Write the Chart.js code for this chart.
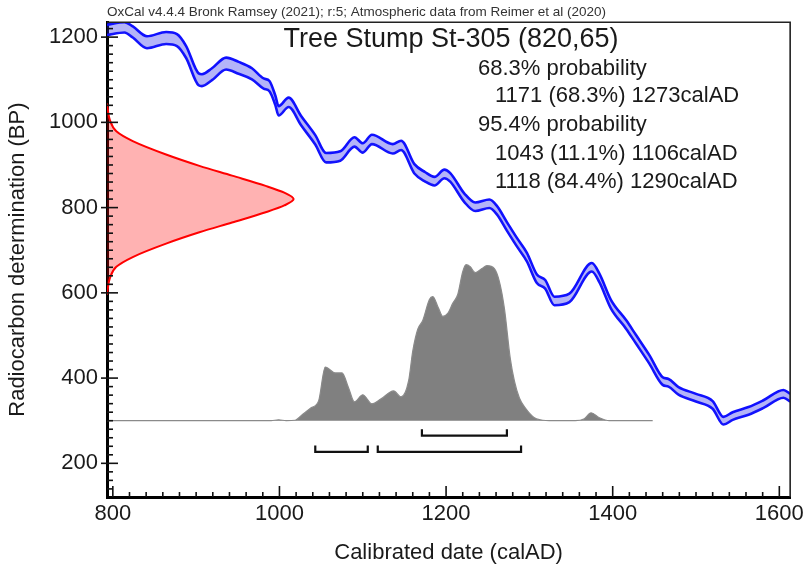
<!DOCTYPE html>
<html><head><meta charset="utf-8">
<script src="https://cdn.jsdelivr.net/npm/chart.js@4.4.0/dist/chart.umd.min.js"></script>
<style>html,body{margin:0;padding:0;background:#fff;}#wrap{width:808px;height:572px;}</style>
</head><body><div id="wrap"><canvas id="c" width="808" height="572"></canvas></div>
<script>
// ---------- text ----------
const HEADER = "OxCal v4.4.4 Bronk Ramsey (2021); r:5; Atmospheric data from Reimer et al (2020)";
const TITLE = "Tree Stump St-305 (820,65)";
const PROB_HEAD = ["68.3% probability", "95.4% probability"];
const PROB_68 = ["1171 (68.3%) 1273calAD"];
const PROB_95 = ["1043 (11.1%) 1106calAD", "1118 (84.4%) 1290calAD"];
const X_TITLE = "Calibrated date (calAD)";
const Y_TITLE = "Radiocarbon determination (BP)";

// ---------- axes ----------
const X_MIN = 793, X_MAX = 1613;
const Y_MIN = 121, Y_MAX = 1235;
const X_TICKS = [800, 1000, 1200, 1400, 1600];
const Y_TICKS = [200, 400, 600, 800, 1000, 1200];

// ---------- calibration curve (IntCal20) ----------
const CAL_YEAR = [793, 814, 824, 841, 864, 877, 888, 903, 907, 919, 936, 951, 967, 981, 988, 995, 999, 1011, 1026, 1043, 1056, 1073, 1090, 1100, 1111, 1136, 1146, 1162, 1175, 1186, 1198, 1205, 1222, 1235, 1252, 1261, 1273, 1285, 1297, 1309, 1319, 1330, 1348, 1375, 1384, 1398, 1416, 1428, 1444, 1460, 1467, 1479, 1500, 1520, 1533, 1544, 1563, 1581, 1605, 1613];
const CAL_BP   = [1217, 1223, 1212, 1188, 1198, 1193, 1165, 1101, 1099, 1113, 1138, 1128, 1114, 1091, 1085, 1052, 1027, 1047, 1004, 959, 917, 921, 954, 940, 960, 938, 946, 891, 872, 862, 879, 871, 823, 802, 809, 794, 756, 719, 684, 633, 620, 581, 588, 660, 635, 573, 526, 491, 444, 393, 389, 370, 354, 337, 300, 311, 323, 339, 363, 354];
const CAL_SIG  = [12, 12, 13, 14, 14, 14, 14, 14, 14, 14, 14, 14, 13, 12, 12, 11, 11, 11, 11, 11, 11, 11, 11, 11, 11, 11, 11, 11, 11, 10, 10, 10, 10, 10, 10, 10, 10, 10, 10, 10, 10, 10, 10, 10, 10, 10, 10, 10, 10, 9, 9, 9, 9, 9, 9, 9, 9, 9, 9, 9];

const RED_BP = [1044, 1005, 979, 956, 924, 898, 875, 851, 835, 820, 805, 789, 765, 742, 716, 684, 661, 635, 596];
const RED_P  = [0, 0.016, 0.05, 0.138, 0.32, 0.495, 0.67, 0.85, 0.95, 1.0, 0.95, 0.85, 0.67, 0.495, 0.32, 0.138, 0.05, 0.016, 0];
const RED_SPAN_YEARS = 224;

// ---------- calibrated distribution, relative probability ----------
const GRAY_YEAR = [793, 990, 999, 1008, 1019, 1026, 1038, 1047, 1055, 1067, 1075, 1083, 1090, 1100, 1111, 1122, 1137, 1146, 1155, 1160, 1166, 1172, 1180, 1184, 1191, 1196, 1202, 1208, 1214, 1220, 1224, 1229, 1235, 1243, 1249, 1258, 1264, 1270, 1277, 1282, 1288, 1295, 1306, 1313, 1329, 1355, 1366, 1374, 1384, 1396, 1448];
const GRAY_P    = [0, 0, 0.006, 0, 0.003, 0.032, 0.083, 0.127, 0.344, 0.306, 0.306, 0.21, 0.121, 0.166, 0.108, 0.14, 0.191, 0.153, 0.255, 0.446, 0.586, 0.643, 0.777, 0.796, 0.72, 0.669, 0.688, 0.752, 0.809, 0.955, 1.0, 0.987, 0.949, 0.975, 0.994, 0.975, 0.892, 0.72, 0.401, 0.255, 0.146, 0.083, 0.019, 0.006, 0, 0, 0.013, 0.051, 0.019, 0, 0];
const GRAY_BASE_BP = 300;
const GRAY_SPAN_BP = 366;

// ---------- ranges ----------
const RANGES_68 = [[1171, 1273]];
const RANGES_95 = [[1043, 1106], [1118, 1290]];
const LEVEL_68 = 265, LEVEL_95 = 227, BRACKET_H = 15;

// ---------- build datasets ----------
const upper = CAL_YEAR.map((x, i) => ({x, y: CAL_BP[i] + CAL_SIG[i]}));
const lower = CAL_YEAR.map((x, i) => ({x, y: CAL_BP[i] - CAL_SIG[i]}));
const red = RED_BP.map((y, i) => ({x: X_MIN + RED_P[i] * RED_SPAN_YEARS, y}));
const gray = GRAY_YEAR.map((x, i) => ({x, y: GRAY_BASE_BP + GRAY_P[i] * GRAY_SPAN_BP}));
function bracket(r, level) {
  return {data: [{x: r[0], y: level + BRACKET_H}, {x: r[0], y: level}, {x: r[1], y: level}, {x: r[1], y: level + BRACKET_H}],
    borderColor: '#111', borderWidth: 2.2, pointRadius: 0, fill: false, tension: 0};
}

const datasets = [
  {data: red, indexAxis: 'y', borderColor: '#ff0000', borderWidth: 2, backgroundColor: 'rgba(255,0,0,0.3)',
   fill: {value: X_MIN}, pointRadius: 0, cubicInterpolationMode: 'monotone'},
  {data: gray, borderColor: '#8a8a8a', borderWidth: 1.2, backgroundColor: '#808080',
   fill: {value: GRAY_BASE_BP}, pointRadius: 0, cubicInterpolationMode: 'monotone'},
  {data: upper, borderColor: '#1010ff', borderWidth: 2.6, backgroundColor: 'rgba(40,40,235,0.35)',
   fill: '+1', pointRadius: 0, cubicInterpolationMode: 'monotone'},
  {data: lower, borderColor: '#1010ff', borderWidth: 2.6, fill: false, pointRadius: 0, cubicInterpolationMode: 'monotone'},
  ...RANGES_68.map(r => bracket(r, LEVEL_68)),
  ...RANGES_95.map(r => bracket(r, LEVEL_95))
];

const TXT = '#1a1a1a';
const decor = {
  id: 'decor',
  afterDatasetsDraw(chart) {
    const {ctx, chartArea: a, scales: {x, y}} = chart;
    ctx.save();
    ctx.strokeStyle = '#222'; ctx.lineWidth = 1.6;
    ctx.beginPath(); ctx.moveTo(a.left, a.top); ctx.lineTo(a.right, a.top); ctx.lineTo(a.right, a.bottom); ctx.stroke();
    ctx.strokeStyle = '#111'; ctx.lineWidth = 1.6;
    for (let v = 800; v <= X_MAX; v += 20) {
      const px = x.getPixelForValue(v);
      const len = (v % 200 === 0) ? 11 : 5;
      ctx.beginPath(); ctx.moveTo(px, a.bottom); ctx.lineTo(px, a.bottom - len); ctx.stroke();
    }
    for (let v = 140; v <= Y_MAX; v += 20) {
      const py = y.getPixelForValue(v);
      const major = v % 200 === 0;
      ctx.beginPath(); ctx.moveTo(a.left - (major ? 6 : 0), py); ctx.lineTo(a.left + (major ? 11 : 6), py); ctx.stroke();
    }
    ctx.restore();
  },
  afterDraw(chart) {
    const {ctx} = chart;
    ctx.save();
    ctx.fillStyle = '#333';
    ctx.font = '13.5px "Liberation Sans", Arial, sans-serif';
    ctx.textAlign = 'left'; ctx.textBaseline = 'alphabetic';
    ctx.fillText(HEADER, 107, 15.5);
    ctx.fillStyle = TXT;
    ctx.font = '27px "Liberation Sans", Arial, sans-serif';
    ctx.textAlign = 'center';
    ctx.fillText(TITLE, 451, 47);
    ctx.textAlign = 'left';
    ctx.font = '22px "Liberation Sans", Arial, sans-serif';
    ctx.fillText(PROB_HEAD[0], 478, 75);
    PROB_68.forEach((t, i) => ctx.fillText(t, 495, 102 + i * 28.5));
    ctx.fillText(PROB_HEAD[1], 478, 131);
    PROB_95.forEach((t, i) => ctx.fillText(t, 495, 159.5 + i * 28.5));
    ctx.restore();
  }
};

Chart.defaults.font.family = '"Liberation Sans", Arial, sans-serif';
new Chart(document.getElementById('c'), {
  type: 'line',
  data: {datasets},
  options: {
    responsive: false, animation: false, devicePixelRatio: 1,
    layout: {padding: {top: 18, right: 13, left: 0, bottom: 0}},
    plugins: {legend: {display: false}, tooltip: {enabled: false}},
    events: [],
    scales: {
      x: {
        type: 'linear', min: X_MIN, max: X_MAX, z: 1,
        afterBuildTicks: s => { s.ticks = X_TICKS.map(v => ({value: v})); },
        afterFit: s => { s.height = 75; },
        grid: {display: false, drawTicks: false},
        border: {display: true, color: '#000', width: 3},
        ticks: {color: TXT, font: {size: 22}, padding: 4, maxRotation: 0, autoSkip: false, callback: v => String(v)},
        title: {display: true, text: X_TITLE, color: TXT, font: {size: 22}, padding: {top: 0, bottom: 6}}
      },
      y: {
        type: 'linear', min: Y_MIN, max: Y_MAX, z: 1,
        afterBuildTicks: s => { s.ticks = Y_TICKS.map(v => ({value: v})); },
        afterFit: s => { s.width = 107; },
        grid: {display: false, drawTicks: false},
        border: {display: true, color: '#000', width: 3},
        ticks: {color: TXT, font: {size: 22}, padding: 9, autoSkip: false, callback: v => String(v)},
        title: {display: true, text: Y_TITLE, color: TXT, font: {size: 22}, padding: {top: 5, bottom: 0}}
      }
    }
  },
  plugins: [decor]
});
</script></body></html>
